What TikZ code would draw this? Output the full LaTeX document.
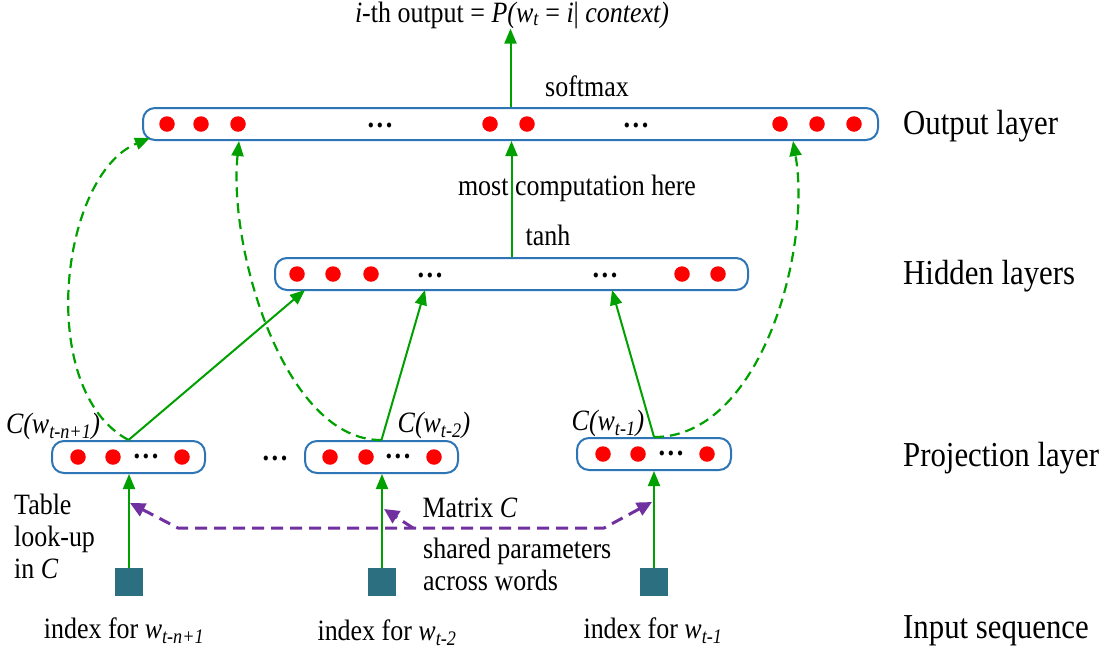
\documentclass[tikz,border=0pt]{standalone}
\usepackage{fontspec}
\setmainfont{Liberation Serif}[FakeStretch=0.88]
\usetikzlibrary{arrows.meta}
\definecolor{boxblue}{RGB}{46,117,182}
\definecolor{feedgreen}{RGB}{0,160,0}
\definecolor{matpurple}{RGB}{112,48,160}
\definecolor{idxteal}{RGB}{43,111,128}
\newcommand{\moredots}{.\kern2.5pt.\kern2.5pt.}

\begin{document}
\begin{tikzpicture}[x=1pt,y=-1pt]
\tikzset{
  layerbox/.style={draw=boxblue,line width=2pt,rounded corners=12pt,fill=white,minimum height=32pt,inner sep=0pt},
  unit/.style={circle,fill=red,minimum size=15.5pt,inner sep=0pt},
  more/.style={font=\fontsize{30}{30}\selectfont\bfseries,inner sep=0pt},
  feed/.style={-{Triangle[length=15pt,width=12pt]},line width=2pt,draw=feedgreen},
  skip/.style={feed,line width=2.2pt,dash pattern=on 10pt off 6pt},
  lookup/.style={line width=3pt,draw=matpurple,dash pattern=on 12pt off 7pt},
  wordidx/.style={fill=idxteal,minimum size=28pt,inner sep=0pt},
  lbl/.style={font=\fontsize{29.5}{32}\selectfont,inner sep=0pt},
  layername/.style={font=\fontsize{35}{38}\selectfont,anchor=base west,inner sep=0pt}
}
\useasboundingbox (0,0) rectangle (1107,649);

% layers
\node[layerbox,minimum width=735pt] (n_out) at (510.5,124) {};
\node[layerbox,minimum width=473pt] (n_hid) at (511.5,274) {};
\node[layerbox,minimum width=153pt] (n_p1) at (128.5,457) {};
\node[layerbox,minimum width=153pt] (n_p2) at (381.5,457) {};
\node[layerbox,minimum width=154pt] (n_p3) at (654,454) {};

% units
\foreach \x [count=\i] in {167,201,238,490,527,780,817,854}
  \node[unit] (n_o\i) at (\x,124) {};
\node[more] (n_om1) at (380,125) {\moredots};
\node[more] (n_om2) at (636,125) {\moredots};
\foreach \x [count=\i] in {297,333,371,682,718}
  \node[unit] (n_h\i) at (\x,274) {};
\node[more] (n_hm1) at (430,275) {\moredots};
\node[more] (n_hm2) at (605,275) {\moredots};
\foreach \x [count=\i] in {78,113,182}
  \node[unit] (n_pa\i) at (\x,457) {};
\node[more] (n_pam) at (146,456) {\moredots};
\foreach \x [count=\i] in {330,366,434}
  \node[unit] (n_pb\i) at (\x,457) {};
\node[more] (n_pbm) at (398,456) {\moredots};
\foreach \x [count=\i] in {603,638,707}
  \node[unit] (n_pc\i) at (\x,454) {};
\node[more] (n_pcm) at (671,453) {\moredots};
\node[more] (n_gap) at (275,458) {\moredots};

% word indices
\node[wordidx] (n_i1) at (129,582) {};
\node[wordidx] (n_i2) at (382,582) {};
\node[wordidx] (n_i3) at (654,582) {};

% texts
\node[lbl,anchor=base] (n_top) at (512,22) {\textit{i}-th output = \textit{P(w\textsubscript{t}} = \textit{i}| \textit{context)}};
\node[lbl,anchor=base] (n_soft) at (587,96) {softmax};
\node[lbl,anchor=base] (n_most) at (577,195) {most computation here};
\node[lbl,anchor=base] (n_tanh) at (548,245) {tanh};
\node[lbl,anchor=base] (n_c1) at (53,433) {\textit{C(w\textsubscript{t-n+1})}};
\node[lbl,anchor=base] (n_c2) at (434,432) {\textit{C(w\textsubscript{t-2})}};
\node[lbl,anchor=base] (n_c3) at (608,430) {\textit{C(w\textsubscript{t-1})}};
\node[lbl,align=left,anchor=north west] (n_table) at (14,494) {Table\\look-up\\in \textit{C}};
\node[lbl,anchor=base] (n_matrix) at (470,517) {Matrix \textit{C}};
\node[lbl,align=left,anchor=north west] (n_shared) at (423,538) {shared parameters\\across words};
\node[lbl,anchor=base] (n_x1) at (124,638) {index for \textit{w\textsubscript{t-n+1}}};
\node[lbl,anchor=base] (n_x2) at (387,640) {index for \textit{w\textsubscript{t-2}}};
\node[lbl,anchor=base] (n_x3) at (653,638) {index for \textit{w\textsubscript{t-1}}};
\node[layername] (n_lo) at (903,134) {Output layer};
\node[layername] (n_lh) at (903,284) {Hidden layers};
\node[layername] (n_lp) at (903,466) {Projection layer};
\node[layername] (n_li) at (903,638) {Input sequence};

% ends on the box borders
\coordinate (h_a) at (305,290);
\coordinate (h_b) at (425,290);
\coordinate (h_c) at (612,290);
\coordinate (o_a) at (150,138);
\coordinate (o_b) at (239,141);
\coordinate (o_c) at (793,141);
\coordinate (t_a) at (130,503);
\coordinate (b_a) at (178,528);
\coordinate (b_c) at (604,528);
\coordinate (t_c) at (652,502);
\coordinate (b_m) at (413,528);
\coordinate (t_b) at (384,509);

% connections
\draw[feed] (n_out.north) -- (n_out.north |- n_top.south);
\draw[feed] (n_hid.north) -- (n_hid.north |- n_out.south);
\draw[feed] (n_p1.north) -- (h_a);
\draw[feed] (n_p2.north) -- (h_b);
\draw[feed] (n_p3.north) -- (h_c);
\draw[feed] (n_i1.north) -- (n_i1 |- n_p1.south);
\draw[feed] (n_i2.north) -- (n_i2 |- n_p2.south);
\draw[feed] (n_i3.north) -- (n_i3 |- n_p3.south);
\draw[skip] (n_p1.north) .. controls (35,390) and (60,175) .. (o_a);
\draw[skip] (n_p2.north) .. controls (285,441) and (228,250) .. (o_b);
\draw[skip] (n_p3.north) .. controls (760,438) and (812,250) .. (o_c);
\draw[lookup,{Triangle[length=15pt,width=14pt]}-{Triangle[length=15pt,width=14pt]}] (t_a) -- (b_a) -- (b_c) -- (t_c);
\draw[lookup,-{Triangle[length=15pt,width=14pt]}] (b_m) -- (t_b);
\end{tikzpicture}
\end{document}
